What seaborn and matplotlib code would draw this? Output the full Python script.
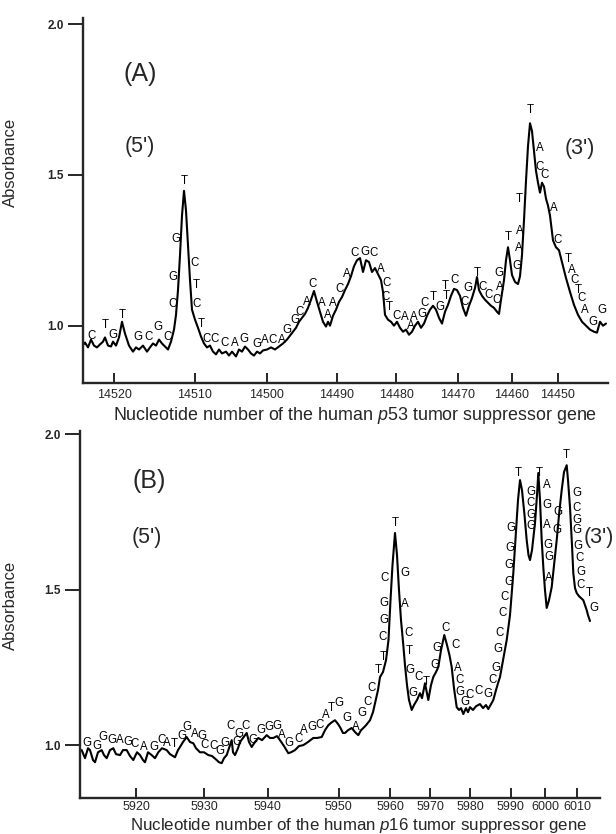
import numpy as np
import pandas as pd
import matplotlib
matplotlib.use("Agg")
import matplotlib.pyplot as plt
import seaborn as sns

# ---- Panel A: p53 trace (elution position, absorbance) ----
a_t = [82, 85, 88, 91, 94, 97, 100, 103, 105, 108, 111, 113, 116, 119, 122, 125, 129, 133, 136, 139,
       143, 147, 150, 153, 156, 159, 162, 165, 168, 171, 174, 176, 178, 180, 182, 184, 186, 188, 190, 192,
       195, 198, 201, 204, 207, 210, 213, 216, 219, 222, 226, 229, 232, 236, 239, 242, 245, 248, 251, 254,
       257, 260, 263, 267, 271, 275, 279, 283, 287, 290, 293, 296, 299, 302, 305, 308, 311, 314, 317, 320,
       323, 326, 328, 330, 333, 336, 339, 342, 345, 348, 351, 354, 357, 360, 363, 366, 369, 372, 375, 378,
       381, 383, 385, 388, 391, 394, 397, 400, 403, 406, 409, 412, 415, 418, 421, 424, 427, 430, 433, 436,
       439, 442, 445, 448, 451, 454, 457, 460, 463, 466, 469, 472, 475, 477, 479, 482, 485, 488, 491, 494,
       497, 499, 501, 504, 506, 508, 510, 512, 515, 518, 520, 522, 524, 526, 528, 530, 532, 534, 536, 538,
       540, 542, 544, 546, 548, 550, 553, 556, 559, 562, 566, 570, 574, 578, 582, 586, 590, 594, 597, 600,
       603, 606]
a_abs = [0.931, 0.944, 0.928, 0.954, 0.934, 0.928, 0.938, 0.947, 0.961, 0.934, 0.931, 0.947, 0.934, 0.961,
         1.013, 0.974, 0.934, 0.914, 0.928, 0.921, 0.934, 0.914, 0.928, 0.941, 0.934, 0.954, 0.941, 0.931,
         0.921, 0.947, 0.987, 1.036, 1.118, 1.234, 1.365, 1.447, 1.382, 1.266, 1.151, 1.053, 1.020, 0.993,
         0.964, 0.941, 0.928, 0.934, 0.914, 0.905, 0.921, 0.908, 0.914, 0.901, 0.914, 0.898, 0.921, 0.914,
         0.931, 0.921, 0.908, 0.901, 0.914, 0.908, 0.918, 0.921, 0.928, 0.921, 0.931, 0.941, 0.954, 0.967,
         0.980, 0.993, 1.013, 1.026, 1.039, 1.059, 1.086, 1.115, 1.079, 1.046, 1.013, 0.997, 1.013, 1.000,
         1.033, 1.053, 1.079, 1.095, 1.118, 1.138, 1.164, 1.197, 1.217, 1.224, 1.178, 1.217, 1.211, 1.178,
         1.191, 1.171, 1.151, 1.112, 1.036, 1.020, 1.013, 1.000, 1.013, 0.993, 0.980, 0.987, 0.970, 0.980,
         1.000, 1.013, 0.993, 1.007, 1.033, 1.053, 1.066, 1.053, 1.026, 1.007, 1.046, 1.069, 1.099, 1.122,
         1.118, 1.099, 1.059, 1.033, 1.066, 1.092, 1.125, 1.161, 1.118, 1.099, 1.086, 1.076, 1.066, 1.059,
         1.046, 1.039, 1.086, 1.151, 1.217, 1.260, 1.217, 1.168, 1.145, 1.138, 1.164, 1.234, 1.349, 1.480,
         1.595, 1.671, 1.645, 1.579, 1.513, 1.474, 1.441, 1.474, 1.461, 1.421, 1.398, 1.365, 1.283, 1.260,
         1.250, 1.211, 1.158, 1.112, 1.069, 1.036, 1.013, 1.000, 0.987, 0.980, 0.977, 1.013, 1.000, 1.007]

a_bases = list("CTGTGCGCCGGTCTCTCCCAGGACAGGCACAAACACGCACCTCAAAGCTGTTCCGTCCCAGTGAAT"
               "TACCACTACTCAGG")
a_base_t = [91.7, 105, 113, 122.3, 138, 149, 158, 168, 172.7, 173.3, 175.7, 184.5, 194.3, 196, 196.7,
            201.7, 206.7, 215, 225, 235, 244, 256.7, 265, 273, 281.7, 286.7, 295, 300, 306.7, 313,
            321.7, 328, 333, 340, 346.7, 355, 365, 374, 380.7, 386.7, 385.7, 389.3, 396.7, 405, 410.7,
            413.3, 421.7, 425, 433.3, 440, 445.7, 446.7, 455, 465, 468.3, 477.7, 482.7, 488.3, 496.7,
            499.3, 499, 508.3, 517.3, 519, 519.3, 519.3, 530.7, 539.3, 539.3, 545, 554, 557.7, 568.3,
            571.7, 575, 578.3, 581.7, 585, 593.3, 601.7]
a_base_abs = [0.967, 1.003, 0.970, 1.036, 0.961, 0.964, 0.997, 0.964, 1.072, 1.161, 1.289, 1.480, 1.207,
              1.135, 1.072, 1.007, 0.957, 0.957, 0.944, 0.944, 0.957, 0.938, 0.954, 0.954, 0.954, 0.987,
              1.020, 1.046, 1.079, 1.138, 1.076, 1.036, 1.076, 1.122, 1.171, 1.240, 1.243, 1.240, 1.188,
              1.141, 1.095, 1.063, 1.033, 1.030, 1.000, 1.030, 1.039, 1.076, 1.095, 1.063, 1.132, 1.099,
              1.151, 1.079, 1.125, 1.174, 1.128, 1.102, 1.086, 1.128, 1.174, 1.293, 1.197, 1.257, 1.313,
              1.421, 1.714, 1.589, 1.526, 1.500, 1.391, 1.283, 1.220, 1.184, 1.151, 1.118, 1.092, 1.053,
              1.013, 1.053]
a_tick_t = [114.3, 195, 266.7, 336.7, 396, 457.7, 511.7, 557.7]
a_tick_lab = ["14520", "14510", "14500", "14490", "14480", "14470", "14460", "14450"]

# ---- Panel B: p16 trace ----
b_t = [81.7, 85, 88, 90, 93, 95, 98, 101.7, 104, 106.7, 110, 113.3, 116, 120, 123, 126.7, 130, 133.3,
       137, 140, 143, 145, 148, 151.7, 155, 158.3, 162, 166.7, 170, 175, 178, 180, 183, 186.7, 190,
       193.3, 196, 200, 204, 208.3, 212, 216.7, 219, 221.7, 224, 226.7, 229, 231.7, 233, 235, 238, 240,
       243, 246.7, 249, 251.7, 255, 258.3, 262, 266.7, 270, 273.3, 277, 280, 284, 288.3, 291, 295, 299,
       303.3, 308, 313.3, 317, 321.7, 325, 328.3, 332, 335, 338, 340, 343, 345, 348, 351.7, 355, 358.3,
       361, 363.3, 366, 370, 373, 375, 378, 380, 383, 386, 388.5, 390.5, 392.5, 395, 397, 399, 401,
       403.3, 405, 407, 409, 411.7, 414, 417, 420, 422, 425, 428.3, 431, 433.3, 436, 438.3, 441, 444.3,
       447, 449.5, 451.7, 454, 456.7, 459, 461, 463.3, 466, 468, 470, 473, 476, 480, 483, 486, 488.3,
       491, 493.3, 496, 498, 500, 503, 506.7, 510, 513.3, 516, 518, 520, 522, 524.5, 526.7, 528.5, 530,
       532, 535, 537, 538.3, 540, 541.7, 543.5, 545, 546.7, 549, 551.7, 554, 556.7, 559, 561.7, 564,
       566.7, 568, 570, 572, 573.3, 575, 576.7, 579, 581, 583.3, 585, 586.7, 588, 590]
b_abs = [0.984, 0.958, 0.990, 0.984, 0.952, 0.945, 0.977, 0.984, 0.968, 0.958, 0.984, 0.990, 0.971, 0.968,
         0.984, 0.984, 0.965, 0.952, 0.977, 0.968, 0.952, 0.945, 0.977, 0.968, 0.958, 0.977, 0.990, 0.984,
         0.971, 0.961, 0.984, 0.994, 1.010, 1.026, 1.010, 1.006, 0.990, 0.977, 0.977, 0.968, 0.965, 0.952,
         0.945, 0.942, 0.958, 0.968, 0.990, 1.016, 0.977, 0.968, 0.990, 1.010, 1.023, 1.039, 1.010, 0.994,
         1.010, 1.023, 1.016, 1.032, 1.023, 1.023, 1.029, 1.016, 0.997, 0.974, 0.977, 0.984, 0.997, 1.000,
         1.010, 1.023, 1.023, 1.026, 1.048, 1.064, 1.074, 1.080, 1.068, 1.058, 1.039, 1.039, 1.048, 1.055,
         1.042, 1.032, 1.048, 1.055, 1.064, 1.080, 1.106, 1.135, 1.177, 1.219, 1.235, 1.273, 1.338, 1.466,
         1.579, 1.682, 1.611, 1.498, 1.402, 1.322, 1.257, 1.193, 1.145, 1.113, 1.129, 1.145, 1.167, 1.151,
         1.199, 1.145, 1.193, 1.219, 1.235, 1.251, 1.305, 1.354, 1.322, 1.289, 1.251, 1.183, 1.122, 1.113,
         1.119, 1.100, 1.119, 1.106, 1.122, 1.113, 1.125, 1.132, 1.119, 1.129, 1.116, 1.132, 1.145, 1.177,
         1.199, 1.219, 1.273, 1.338, 1.418, 1.553, 1.691, 1.788, 1.852, 1.820, 1.740, 1.659, 1.611, 1.595,
         1.627, 1.714, 1.804, 1.875, 1.788, 1.659, 1.563, 1.498, 1.441, 1.466, 1.508, 1.579, 1.659, 1.740,
         1.820, 1.878, 1.900, 1.852, 1.765, 1.643, 1.553, 1.505, 1.489, 1.479, 1.473, 1.466, 1.450, 1.434,
         1.418, 1.399]

b_bases = ["G", "G", "G", "G", "A", "G", "C", "A", "G", "C",
           "A", "T", "G", "G", "A", "G", "C", "C", "G", "G",
           "C", "G", "C", "G", "G", "G", "G", "G", "A", "G",
           "C", "A", "G", "C", "A", "T", "G", "G", "A", "G",
           "C", "C", "T", "T", "C", "G", "G", "C", "T", "G",
           "A", "C", "T", "G", "C", "G", "T", "G", "G", "C",
           "C", "A", "C", "G", "G", "C", "C", "G", "C", "G",
           "G", "C", "C", "C", "G", "G", "G", "G", "T", "G",
           "C", "G", "G", "T", "A", "G", "A", "G", "G", "A",
           "G", "G", "T", "G", "C", "G", "G", "G", "C", "G",
           "C", "T", "G"]
b_base_t = [87.3, 96.7, 103.3, 111.7, 120, 128.3, 135, 144, 154, 161.7,
            166.7, 174, 181.7, 186.7, 195, 201.7, 205, 213.3, 220, 225,
            230.7, 239.3, 245.7, 236.7, 252.7, 260.7, 269.3, 277.3, 281.7, 289.3,
            298.3, 303.3, 311.7, 319.3, 325.7, 331.7, 339, 346.7, 356, 361.7,
            367.3, 371.7, 378.3, 383.3, 382.7, 384, 384, 385, 395, 405,
            405, 408.3, 409.3, 410, 418.3, 413.3, 426.7, 435, 436.7, 446,
            456, 457.3, 459.3, 460, 465, 470, 479, 488.3, 492.7, 496,
            498.3, 500, 502.7, 505, 509.3, 509.3, 510, 510.7, 518.3, 531,
            530.7, 531, 531, 539.3, 546.7, 546.7, 546.7, 548.3, 549.3, 549,
            558.3, 557.3, 566.7, 576.7, 576.7, 576.7, 576.7, 578.3, 580, 580.7,
            580.7, 589.3, 594.3]
b_base_abs = [1.006, 0.997, 1.026, 1.016, 1.016, 1.010, 1.003, 0.994, 0.994, 1.016,
              1.006, 1.003, 1.029, 1.058, 1.035, 1.029, 1.000, 0.997, 0.981, 1.006,
              1.061, 1.035, 1.061, 1.011, 1.016, 1.048, 1.058, 1.061, 1.032, 1.006,
              1.019, 1.048, 1.058, 1.064, 1.096, 1.119, 1.135, 1.087, 1.058, 1.103,
              1.138, 1.183, 1.241, 1.283, 1.347, 1.402, 1.457, 1.538, 1.714, 1.553,
              1.453, 1.360, 1.302, 1.241, 1.219, 1.167, 1.203, 1.257, 1.312, 1.376,
              1.322, 1.248, 1.209, 1.170, 1.138, 1.161, 1.174, 1.164, 1.209, 1.248,
              1.309, 1.360, 1.424, 1.476, 1.524, 1.579, 1.633, 1.698, 1.875, 1.814,
              1.778, 1.740, 1.704, 1.875, 1.836, 1.772, 1.707, 1.643, 1.605, 1.537,
              1.749, 1.691, 1.932, 1.810, 1.762, 1.723, 1.691, 1.640, 1.601, 1.556,
              1.514, 1.489, 1.441]
b_tick_t = [136, 204, 267.7, 338.8, 390, 430, 470, 510.7, 545, 577.3]
b_tick_lab = ["5920", "5930", "5940", "5950", "5960", "5970", "5980", "5990", "6000", "6010"]

sns.set_style("ticks")
plt.rcParams['font.family'] = ['Liberation Sans', 'DejaVu Sans']
plt.rcParams['mathtext.fontset'] = 'custom'
plt.rcParams['mathtext.it'] = 'Liberation Sans:italic'
plt.rcParams['mathtext.rm'] = 'Liberation Sans'

fig = plt.figure(figsize=(6.16, 8.34), dpi=100)
ax1 = fig.add_axes([83 / 616, 1 - 383 / 834, 525 / 616, 365 / 834])
ax2 = fig.add_axes([80 / 616, 1 - 798 / 834, 520 / 616, 367 / 834])

panels = [
    (ax1, a_t, a_abs, a_bases, a_base_t, a_base_abs, a_tick_t, a_tick_lab, (83, 608), (0.81, 2.02),
     "Nucleotide number of the human $\\it{p53}$ tumor suppressor gene", 12.9, 4),
    (ax2, b_t, b_abs, b_bases, b_base_t, b_base_abs, b_tick_t, b_tick_lab, (80, 600), (0.83, 2.01),
     "Nucleotide number of the human $\\it{p16}$ tumor suppressor gene", 12.2, 2.5),
]

for ax, t, ab, bases, bt, bab, tt, tl, xl, yl, xlab, xfs, xpad in panels:
    df = pd.DataFrame({"t": t, "abs": ab})
    sns.lineplot(data=df, x="t", y="abs", ax=ax, color="black", lw=1.5, sort=False)
    for b, x, y in zip(bases, bt, bab):
        ax.text(x, y, b, ha="center", va="center", fontsize=8.3, color="black")
    ax.set_xlim(*xl)
    ax.set_ylim(*yl)
    ax.set_xticks(tt)
    ax.set_xticklabels(tl, fontsize=9)
    ax.set_yticks([1.0, 1.5, 2.0])
    ax.set_yticklabels(["1.0", "1.5", "2.0"], fontsize=8.5, fontweight="bold")
    ax.tick_params(axis="x", direction="in", length=7, width=1.4, pad=xpad)
    ax.tick_params(axis="y", direction="out", length=11, width=1.4, pad=3)
    sns.despine(ax=ax)
    for s in ["left", "bottom"]:
        ax.spines[s].set_linewidth(1.7)
    ax.set_xlabel(xlab, fontsize=xfs)
    ax.set_ylabel("Absorbance", fontsize=12)

ax1.xaxis.set_label_coords(0.518, -0.06)
ax1.yaxis.set_label_coords(-0.124, 0.605)
ax2.xaxis.set_label_coords(0.535, -0.048)
ax2.yaxis.set_label_coords(-0.119, 0.526)

ax1.text(140, 1.836, "(A)", fontsize=18, ha="center", va="center")
ax1.text(140, 1.595, "(5')", fontsize=15.5, ha="center", va="center")
ax1.text(580, 1.586, "(3')", fontsize=15.5, ha="center", va="center")
ax2.text(149, 1.849, "(B)", fontsize=18, ha="center", va="center")
ax2.text(147, 1.669, "(5')", fontsize=15.5, ha="center", va="center")
ax2.text(599, 1.666, "(3')", fontsize=15.5, ha="center", va="center")

fig.savefig("out.png", dpi=100)
